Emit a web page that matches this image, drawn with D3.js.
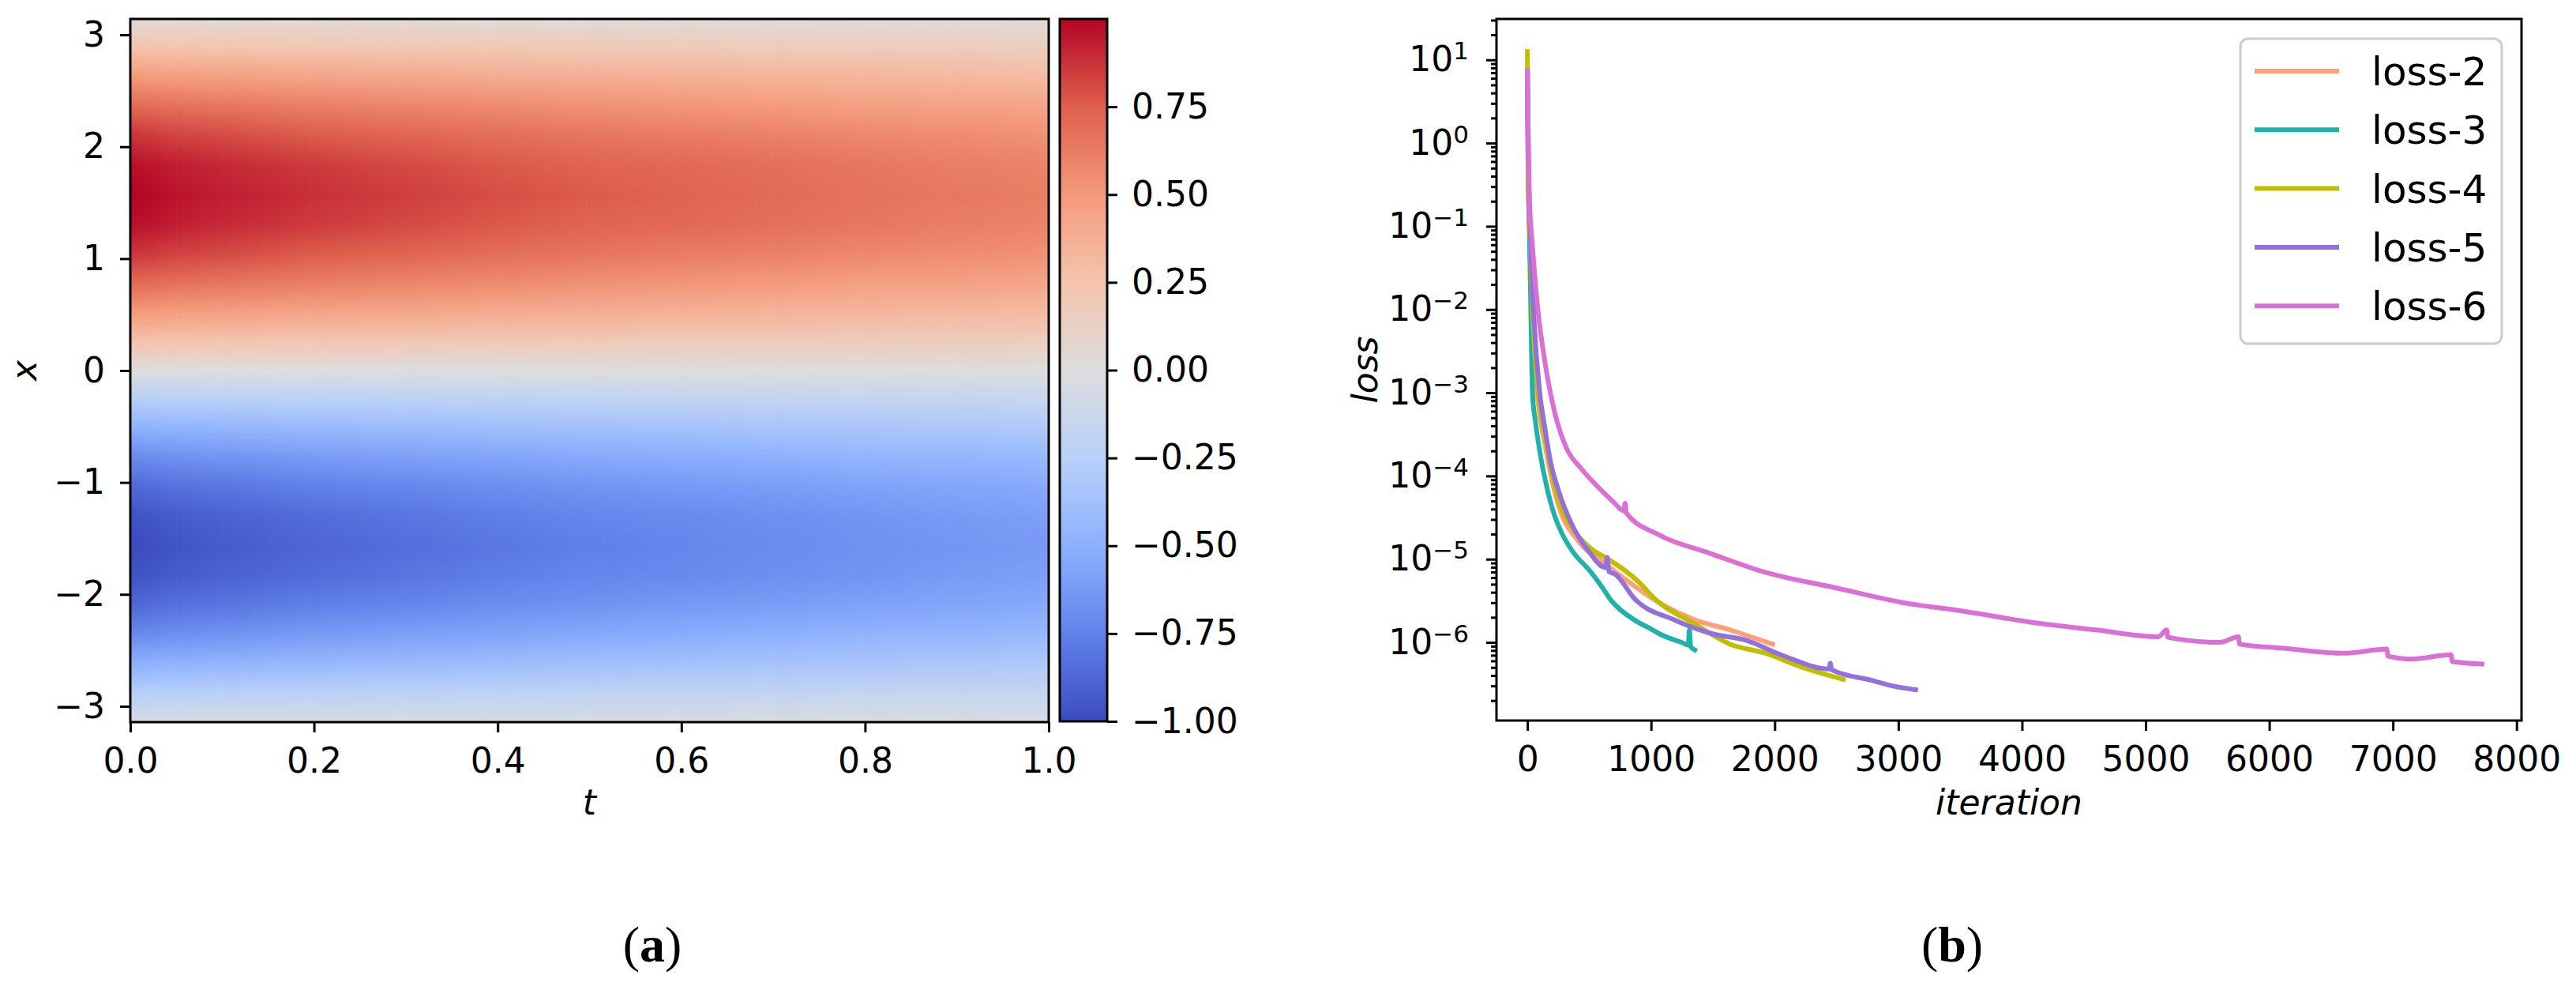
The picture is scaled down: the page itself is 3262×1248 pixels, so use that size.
<!DOCTYPE html>
<html lang="en">
<head>
<meta charset="UTF-8">
<title>Solution field and training loss</title>
<script src="https://d3js.org/d3.v7.min.js"></script>
<style>
  body { margin: 0; background: #fff; }
  text { font-family: "DejaVu Sans", sans-serif; fill: #000; }
</style>
</head>
<body>
<div id="chart"></div>
<script>
// ---- panel (a): solution u(t, x) ----
var tValues = [0, 0.05, 0.1, 0.2, 0.3, 0.4, 0.5, 0.6, 0.7, 0.8, 0.9, 1.0]
var xValues = [-3.1416, -2.8798, -2.6180, -2.3562, -2.0944, -1.8326, -1.5708, -1.3090, -1.0472,
    -0.7854, -0.5236, -0.2618, 0, 0.2618, 0.5236, 0.7854, 1.0472, 1.3090, 1.5708, 1.8326,
    2.0944, 2.3562, 2.6180, 2.8798, 3.1416]
// one row per t column, values from x = -pi (bottom) to x = pi (top)
var uGrid = [
    [-0.04, -0.26, -0.50, -0.71, -0.87, -0.97, -1.00, -0.97, -0.87, -0.71, -0.50, -0.26, 0.00, 0.26, 0.50, 0.71, 0.87, 0.97, 1.00, 0.97, 0.87, 0.71, 0.50, 0.26, 0.03],
    [-0.04, -0.25, -0.48, -0.68, -0.83, -0.93, -0.96, -0.93, -0.83, -0.68, -0.48, -0.25, 0.00, 0.25, 0.48, 0.68, 0.83, 0.93, 0.96, 0.93, 0.83, 0.68, 0.48, 0.25, 0.03],
    [-0.04, -0.24, -0.47, -0.66, -0.81, -0.90, -0.93, -0.90, -0.81, -0.66, -0.47, -0.24, 0.00, 0.24, 0.47, 0.66, 0.81, 0.90, 0.93, 0.90, 0.81, 0.66, 0.47, 0.24, 0.03],
    [-0.04, -0.23, -0.44, -0.62, -0.76, -0.85, -0.88, -0.85, -0.76, -0.62, -0.44, -0.23, 0.00, 0.23, 0.44, 0.62, 0.76, 0.85, 0.88, 0.85, 0.76, 0.62, 0.44, 0.23, 0.03],
    [-0.04, -0.22, -0.42, -0.59, -0.73, -0.81, -0.84, -0.81, -0.73, -0.59, -0.42, -0.22, 0.00, 0.22, 0.42, 0.59, 0.73, 0.81, 0.84, 0.81, 0.73, 0.59, 0.42, 0.22, 0.03],
    [-0.04, -0.21, -0.40, -0.57, -0.69, -0.77, -0.80, -0.77, -0.69, -0.57, -0.40, -0.21, 0.00, 0.21, 0.40, 0.57, 0.69, 0.77, 0.80, 0.77, 0.69, 0.57, 0.40, 0.21, 0.03],
    [-0.04, -0.20, -0.38, -0.54, -0.66, -0.73, -0.76, -0.73, -0.66, -0.54, -0.38, -0.20, 0.00, 0.20, 0.38, 0.54, 0.66, 0.73, 0.76, 0.73, 0.66, 0.54, 0.38, 0.20, 0.03],
    [-0.04, -0.19, -0.37, -0.52, -0.63, -0.71, -0.73, -0.71, -0.63, -0.52, -0.37, -0.19, 0.00, 0.19, 0.37, 0.52, 0.63, 0.71, 0.73, 0.71, 0.63, 0.52, 0.37, 0.19, 0.03],
    [-0.04, -0.18, -0.35, -0.50, -0.61, -0.68, -0.70, -0.68, -0.61, -0.50, -0.35, -0.18, 0.00, 0.18, 0.35, 0.50, 0.61, 0.68, 0.70, 0.68, 0.61, 0.50, 0.35, 0.18, 0.03],
    [-0.04, -0.17, -0.34, -0.47, -0.58, -0.65, -0.67, -0.65, -0.58, -0.47, -0.34, -0.17, 0.00, 0.17, 0.34, 0.47, 0.58, 0.65, 0.67, 0.65, 0.58, 0.47, 0.34, 0.17, 0.03],
    [-0.04, -0.17, -0.32, -0.46, -0.56, -0.62, -0.645, -0.62, -0.56, -0.46, -0.32, -0.17, 0.00, 0.17, 0.32, 0.46, 0.56, 0.62, 0.645, 0.62, 0.56, 0.46, 0.32, 0.17, 0.03],
    [-0.04, -0.16, -0.31, -0.44, -0.54, -0.60, -0.62, -0.60, -0.54, -0.44, -0.31, -0.16, 0.00, 0.16, 0.31, 0.44, 0.54, 0.60, 0.62, 0.60, 0.54, 0.44, 0.31, 0.16, 0.03]
]
var tTicks = [0, 0.2, 0.4, 0.6, 0.8, 1.0]
var xTicks = [-3, -2, -1, 0, 1, 2, 3]
var cbTicks = [-1, -0.75, -0.5, -0.25, 0, 0.25, 0.5, 0.75]

// ---- panel (b): loss curves [iteration, loss] ----
var loss2 = [[0, 4.0], [6, 0.4], [20, 0.063], [40, 6.3e-3], [85, 7.9e-4], [140, 2.5e-4], [227, 5.9e-5],
    [422, 1.58e-5], [600, 9.5e-6], [800, 5.6e-6], [1099, 2.8e-6], [1354, 1.86e-6], [1641, 1.41e-6],
    [1782, 1.2e-6], [1984, 9.5e-7]]
var loss3 = [[0, 5.0], [6, 0.5], [12, 0.16], [17, 0.074], [29, 7.4e-3], [42, 9.3e-4], [64, 4.6e-4],
    [102, 1.9e-4], [152, 7.9e-5], [215, 3.5e-5], [275, 2.1e-5], [362, 1.26e-5], [510, 7.1e-6],
    [600, 4.7e-6], [670, 3.3e-6], [856, 1.9e-6], [1014, 1.41e-6], [1071, 1.26e-6], [1245, 1.0e-6],
    [1300, 9.3e-7], [1310, 1.41e-6], [1320, 8.9e-7], [1354, 8.1e-7]]
var loss4 = [[0, 12.6], [3, 3.2], [8, 0.32], [22, 0.074], [45, 7.4e-3], [90, 9.3e-4], [150, 2.5e-4],
    [200, 1.0e-4], [275, 4.1e-5], [387, 2.1e-5], [547, 1.23e-5], [644, 1.02e-5], [907, 5.2e-6],
    [1015, 3.5e-6], [1354, 1.66e-6], [1641, 9.5e-7], [1928, 7.4e-7], [2210, 5.1e-7], [2555, 3.6e-7]]
var loss5 = [[0, 6.3], [8, 0.63], [25, 0.074], [54, 7.4e-3], [102, 9.3e-4], [140, 3.9e-4], [190, 1.41e-4],
    [250, 6.8e-5], [350, 2.8e-5], [498, 1.23e-5], [630, 7.9e-6], [645, 1.05e-5], [660, 7.1e-6],
    [709, 6.6e-6], [870, 3.3e-6], [1190, 1.86e-6], [1503, 1.26e-6], [1758, 1.07e-6], [2070, 6.9e-7],
    [2441, 4.8e-7], [2450, 5.6e-7], [2460, 4.7e-7], [2784, 3.5e-7], [2950, 3.0e-7], [3140, 2.7e-7]]
var loss6 = [[0, 7.4], [5, 2.0], [12, 0.40], [22, 0.14], [35, 0.074], [60, 0.025], [92, 7.9e-3],
    [128, 3.2e-3], [160, 1.6e-3], [190, 9.3e-4], [238, 4.6e-4], [313, 2.2e-4], [434, 1.23e-4],
    [595, 6.8e-5], [700, 4.8e-5], [780, 3.8e-5], [790, 4.7e-5], [800, 3.6e-5], [1066, 1.95e-5],
    [1481, 1.17e-5], [1903, 7.1e-6], [2500, 4.5e-6], [3065, 2.95e-6], [3500, 2.4e-6], [4080, 1.74e-6],
    [4600, 1.41e-6], [5102, 1.17e-6], [5170, 1.41e-6], [5180, 1.15e-6], [5600, 1.0e-6], [5750, 1.17e-6],
    [5760, 9.5e-7], [6117, 8.5e-7], [6600, 7.4e-7], [6950, 8.3e-7], [6960, 6.8e-7], [7145, 6.3e-7],
    [7470, 7.1e-7], [7480, 5.9e-7], [7720, 5.5e-7]]
var lossNames = ["loss-2", "loss-3", "loss-4", "loss-5", "loss-6"]
var lossColors = ["#ffa07a", "#20b2aa", "#bfbf00", "#9370db", "#da70d6"]
var iterTicks = [0, 1000, 2000, 3000, 4000, 5000, 6000, 7000, 8000]
var lossTicks = [1e-6, 1e-5, 1e-4, 1e-3, 1e-2, 1e-1, 1e0, 1e1]

var W = 3262, H = 1248
var svg = d3.select("#chart").append("svg").attr("width", W).attr("height", H)
var defs = svg.append("defs")

var coolwarm = d3.scaleLinear()
    .domain([-1, -0.75, -0.5, -0.25, 0, 0.25, 0.5, 0.75, 1])
    .range(["#3b4cc0", "#6282ea", "#8db0fe", "#b8d0f9", "#dddddd", "#f5c4ad", "#f49a7b", "#de604d", "#b40426"])
    .clamp(true)

function styleAxis(g, size) {
    g.select(".domain").remove()
    g.selectAll(".tick line").attr("stroke", "#000").attr("stroke-width", 3)
    g.selectAll(".tick text").attr("font-size", size).attr("font-family", "DejaVu Sans")
}

// ===== panel (a) =====
var hm = {left: 165, top: 24, right: 1328, bottom: 914}
var tScale = d3.scaleLinear().domain([0, 1]).range([hm.left, hm.right])
var xScale = d3.scaleLinear().domain([-Math.PI, Math.PI]).range([hm.bottom, hm.top])

// vertical gradient per t column
uGrid.forEach(function(col, i) {
    var g = defs.append("linearGradient").attr("id", "col" + i)
        .attr("gradientUnits", "userSpaceOnUse")
        .attr("x1", 0).attr("x2", 0).attr("y1", hm.bottom).attr("y2", hm.top)
    g.selectAll("stop").data(col).enter().append("stop")
        .attr("offset", function(d, k) { return (hm.bottom - xScale(xValues[k])) / (hm.bottom - hm.top) })
        .attr("stop-color", function(d) { return coolwarm(d) })
})
// horizontal ramp used to fade one column into the next
var ramp = defs.append("linearGradient").attr("id", "ramp")
ramp.append("stop").attr("offset", 0).attr("stop-color", "#fff").attr("stop-opacity", 0)
ramp.append("stop").attr("offset", 1).attr("stop-color", "#fff").attr("stop-opacity", 1)

var spans = d3.pairs(d3.range(tValues.length))
var heat = svg.append("g")
spans.forEach(function(p) {
    var x0 = tScale(tValues[p[0]]), x1 = tScale(tValues[p[1]])
    var w = x1 - x0 + 0.6
    defs.append("mask").attr("id", "fade" + p[0])
        .attr("maskUnits", "userSpaceOnUse")
        .attr("x", x0).attr("y", hm.top).attr("width", w).attr("height", hm.bottom - hm.top)
        .append("rect").attr("x", x0).attr("y", hm.top).attr("width", x1 - x0).attr("height", hm.bottom - hm.top)
        .attr("fill", "url(#ramp)")
    heat.append("rect").attr("x", x0).attr("y", hm.top).attr("width", w).attr("height", hm.bottom - hm.top)
        .attr("fill", "url(#col" + p[0] + ")")
    heat.append("rect").attr("x", x0).attr("y", hm.top).attr("width", w).attr("height", hm.bottom - hm.top)
        .attr("fill", "url(#col" + p[1] + ")").attr("mask", "url(#fade" + p[0] + ")")
})

svg.append("g").attr("transform", "translate(0," + hm.bottom + ")")
    .call(d3.axisBottom(tScale).tickValues(tTicks).tickSize(13).tickPadding(20).tickFormat(d3.format(".1f")))
    .call(styleAxis, 44)
svg.append("g").attr("transform", "translate(" + hm.left + ",0)")
    .call(d3.axisLeft(xScale).tickValues(xTicks).tickSize(13).tickPadding(19).tickFormat(d3.format("d")))
    .call(styleAxis, 44)
svg.append("rect").attr("x", hm.left).attr("y", hm.top)
    .attr("width", hm.right - hm.left).attr("height", hm.bottom - hm.top)
    .attr("fill", "none").attr("stroke", "#000").attr("stroke-width", 3)

svg.append("text").attr("x", (hm.left + hm.right) / 2).attr("y", 1031)
    .attr("text-anchor", "middle").attr("font-size", 44).attr("font-style", "italic").text("t")
svg.append("text").attr("transform", "translate(46," + (hm.top + hm.bottom) / 2 + ") rotate(-90)")
    .attr("text-anchor", "middle").attr("font-size", 44).attr("font-style", "italic").text("x")

// colorbar
var cb = {left: 1342, right: 1402, top: 24, bottom: 913}
var cScale = d3.scaleLinear().domain([-1, 1]).range([cb.bottom, cb.top])
var cg = defs.append("linearGradient").attr("id", "cbar")
    .attr("x1", 0).attr("x2", 0).attr("y1", 1).attr("y2", 0)
cg.selectAll("stop").data(coolwarm.domain()).enter().append("stop")
    .attr("offset", function(d) { return (d + 1) / 2 })
    .attr("stop-color", function(d) { return coolwarm(d) })
svg.append("rect").attr("x", cb.left).attr("y", cb.top)
    .attr("width", cb.right - cb.left).attr("height", cb.bottom - cb.top)
    .attr("fill", "url(#cbar)").attr("stroke", "#000").attr("stroke-width", 3)
svg.append("g").attr("transform", "translate(" + cb.right + ",0)")
    .call(d3.axisRight(cScale).tickValues(cbTicks).tickSize(13).tickPadding(18).tickFormat(d3.format(".2f")))
    .call(styleAxis, 44)

// ===== panel (b) =====
var lp = {left: 1895, top: 24, right: 3193, bottom: 912}
var iterScale = d3.scaleLinear().domain([-250, 8040]).range([lp.left, lp.right])
var lossScale = d3.scaleLog().domain([1.15e-7, 31]).range([lp.bottom, lp.top])

var minorTicks = []
for (var e = -7; e <= 1; e++) {
    for (var m = 2; m <= 9; m++) {
        var v = m * Math.pow(10, e)
        if (v > 1.15e-7 && v < 31) minorTicks.push(v)
    }
}
svg.append("g").attr("transform", "translate(" + lp.left + ",0)")
    .call(d3.axisLeft(lossScale).tickValues(minorTicks).tickSize(7).tickFormat(""))
    .call(styleAxis, 44)
var yAx = svg.append("g").attr("transform", "translate(" + lp.left + ",0)")
    .call(d3.axisLeft(lossScale).tickValues(lossTicks).tickSize(13).tickPadding(22).tickFormat(""))
    .call(styleAxis, 44)
yAx.selectAll(".tick text").each(function(d) {
    var ex = Math.round(Math.log10(d))
    var t = d3.select(this)
    t.text("10")
    t.append("tspan").attr("dy", -15).attr("font-size", 31).text(ex < 0 ? "\u2212" + (-ex) : ex)
})
svg.append("g").attr("transform", "translate(0," + lp.bottom + ")")
    .call(d3.axisBottom(iterScale).tickValues(iterTicks).tickSize(13).tickPadding(20).tickFormat(d3.format("d")))
    .call(styleAxis, 44)

var line = d3.line()
    .curve(d3.curveMonotoneX)
    .x(function(d) { return iterScale(d[0]) })
    .y(function(d) { return lossScale(d[1]) })
var series = [loss2, loss3, loss4, loss5, loss6]
svg.append("g").selectAll("path").data(series).enter().append("path")
    .attr("d", line)
    .attr("fill", "none")
    .attr("stroke", function(d, i) { return lossColors[i] })
    .attr("stroke-width", 6)
    .attr("stroke-linejoin", "round")
    .attr("stroke-linecap", "square")

svg.append("rect").attr("x", lp.left).attr("y", lp.top)
    .attr("width", lp.right - lp.left).attr("height", lp.bottom - lp.top)
    .attr("fill", "none").attr("stroke", "#000").attr("stroke-width", 3)

svg.append("text").attr("x", (lp.left + lp.right) / 2).attr("y", 1031)
    .attr("text-anchor", "middle").attr("font-size", 44).attr("font-style", "italic").text("iteration")
svg.append("text").attr("transform", "translate(1744," + (lp.top + lp.bottom) / 2 + ") rotate(-90)")
    .attr("text-anchor", "middle").attr("font-size", 44).attr("font-style", "italic").text("loss")

// legend
var lg = svg.append("g")
lg.append("rect").attr("x", 2837).attr("y", 49).attr("width", 331).attr("height", 386)
    .attr("rx", 10).attr("fill", "#fff").attr("fill-opacity", 0.8)
    .attr("stroke", "#cccccc").attr("stroke-width", 3)
var items = lg.selectAll("g.item").data(lossNames).enter().append("g")
    .attr("transform", function(d, i) { return "translate(2855," + (90 + i * 74.3) + ")" })
items.append("line").attr("x1", 0).attr("x2", 107)
    .attr("stroke", function(d, i) { return lossColors[i] }).attr("stroke-width", 6)
items.append("text").attr("x", 148).attr("dy", "0.36em").attr("font-size", 50).text(function(d) { return d })

// captions
var cap = svg.append("g").attr("font-family", "Liberation Serif").attr("font-size", 64)
;[["a", 826], ["b", 2472]].forEach(function(c) {
    var t = cap.append("text").attr("x", c[1]).attr("y", 1217).attr("text-anchor", "middle")
        .style("font-family", "Liberation Serif")
    t.append("tspan").text("(")
    t.append("tspan").attr("font-weight", "bold").text(c[0])
    t.append("tspan").text(")")
})
</script>
</body>
</html>
